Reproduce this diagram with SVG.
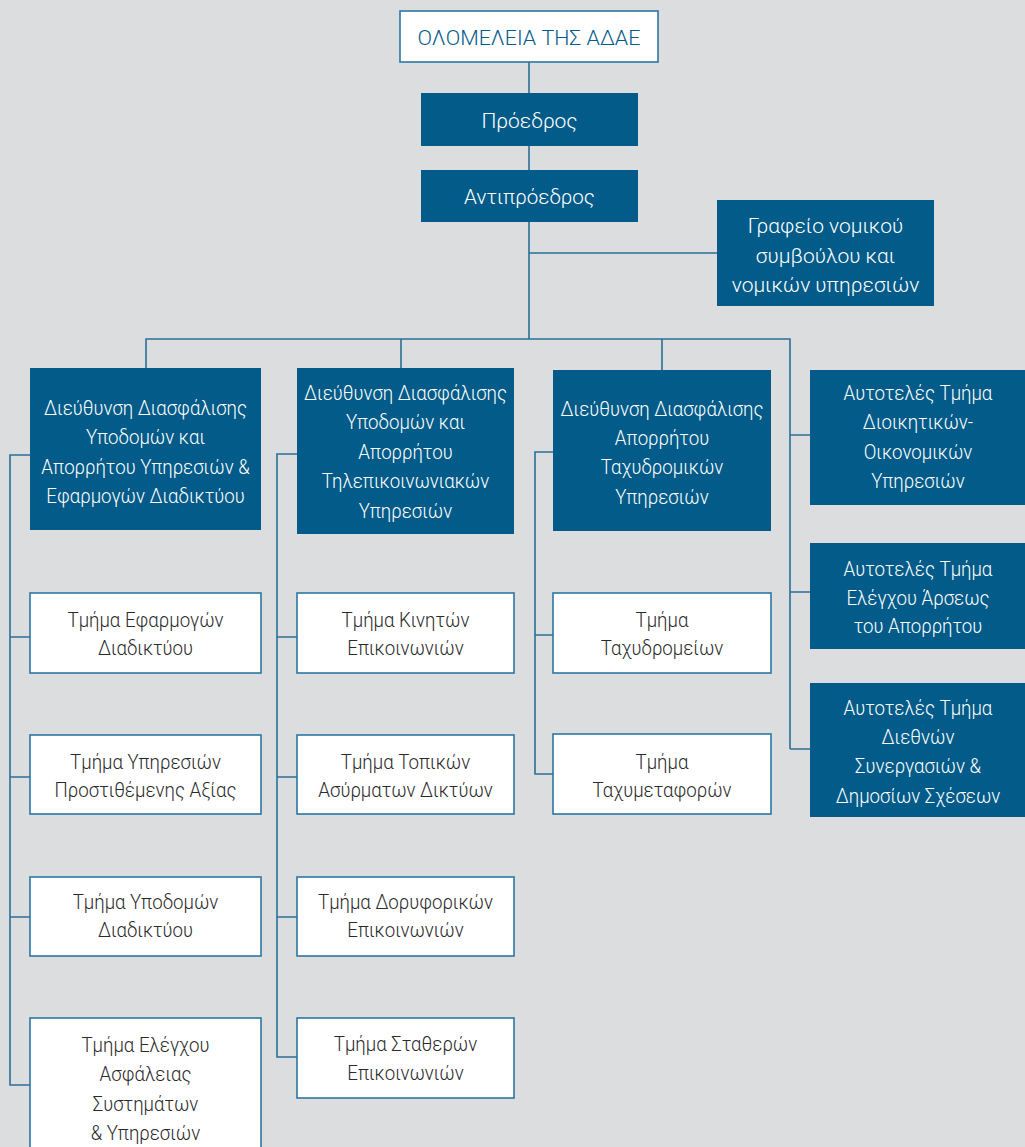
<svg xmlns="http://www.w3.org/2000/svg" width="1025" height="1147" viewBox="0 0 1025 1147">
<style>
.bg{fill:#dcdddf}
.dark{fill:#025b88}
.light{fill:#ffffff;stroke:#2b77a3;stroke-width:1.6}
.conn{fill:none;stroke:#2b6f98;stroke-width:1.6}
text{font-family:Roboto,"Noto Sans","DejaVu Sans",sans-serif;font-weight:300;font-size:21px;text-anchor:middle}
.tw{fill:#ffffff}
.tk{fill:#2a2a2a}
.tb{fill:#025b88}
</style>
<rect class="bg" x="0" y="0" width="1025" height="1147"/>
<g id="connectors">
<path class="conn" d="M529 62V339M529 253H717M146 368V339H790V749M401 339V368M662 339V370M790 435H810M790 592H810M790 749H810"/>
<path class="conn" d="M30 455H10V1085H30M10 637H30M10 777H30M10 917H30"/>
<path class="conn" d="M297 454H277V1057H297M277 637H297M277 777H297M277 917H297"/>
<path class="conn" d="M553 452H535V774H553M535 635H553"/>
</g>
<g id="olomeleia"><rect class="light" x="400" y="11" width="258" height="51"/><text class="tb" transform="translate(529 0) scale(1.02 1)"><tspan x="0" y="45.5">ΟΛΟΜΕΛΕΙΑ ΤΗΣ ΑΔΑΕ</tspan></text></g>
<g id="proedros"><rect class="dark" x="421" y="93" width="217" height="53"/><text class="tw" transform="translate(529.5 0) scale(1.0 1)"><tspan x="0" y="128">Πρόεδρος</tspan></text></g>
<g id="antiproedros"><rect class="dark" x="421" y="170" width="217" height="52"/><text class="tw" transform="translate(529.5 0) scale(0.98 1)"><tspan x="0" y="204">Αντιπρόεδρος</tspan></text></g>
<g id="grafeio"><rect class="dark" x="717" y="200" width="217" height="106"/><text class="tw" transform="translate(825.5 0) scale(1.0 1)"><tspan x="0" y="233">Γραφείο νομικού</tspan><tspan x="0" y="262.5">συμβούλου και</tspan><tspan x="0" y="292">νομικών υπηρεσιών</tspan></text></g>
<g id="dir1"><rect class="dark" x="30" y="368" width="231" height="162"/><text class="tw" transform="translate(145.5 0) scale(0.89 1)"><tspan x="0" y="415">Διεύθυνση Διασφάλισης</tspan><tspan x="0" y="444.3">Υποδομών και</tspan><tspan x="0" y="473.6">Απορρήτου Υπηρεσιών &amp;</tspan><tspan x="0" y="503">Εφαρμογών Διαδικτύου</tspan></text></g>
<g id="dir2"><rect class="dark" x="297" y="368" width="217" height="166"/><text class="tw" transform="translate(405.5 0) scale(0.89 1)"><tspan x="0" y="400">Διεύθυνση Διασφάλισης</tspan><tspan x="0" y="429.5">Υποδομών και</tspan><tspan x="0" y="459">Απορρήτου</tspan><tspan x="0" y="488.5">Τηλεπικοινωνιακών</tspan><tspan x="0" y="518">Υπηρεσιών</tspan></text></g>
<g id="dir3"><rect class="dark" x="553" y="370" width="218" height="161"/><text class="tw" transform="translate(662 0) scale(0.89 1)"><tspan x="0" y="416">Διεύθυνση Διασφάλισης</tspan><tspan x="0" y="445.2">Απορρήτου</tspan><tspan x="0" y="474.4">Ταχυδρομικών</tspan><tspan x="0" y="503.6">Υπηρεσιών</tspan></text></g>
<g id="auto1"><rect class="dark" x="810" y="370" width="220" height="135"/><text class="tw" transform="translate(918 0) scale(0.89 1)"><tspan x="0" y="400">Αυτοτελές Τμήμα</tspan><tspan x="0" y="429.5">Διοικητικών-</tspan><tspan x="0" y="459">Οικονομικών</tspan><tspan x="0" y="488.5">Υπηρεσιών</tspan></text></g>
<g id="auto2"><rect class="dark" x="810" y="543" width="220" height="106"/><text class="tw" transform="translate(918 0) scale(0.89 1)"><tspan x="0" y="576">Αυτοτελές Τμήμα</tspan><tspan x="0" y="604.7">Ελέγχου Άρσεως</tspan><tspan x="0" y="633.4">του Απορρήτου</tspan></text></g>
<g id="auto3"><rect class="dark" x="810" y="683" width="220" height="134"/><text class="tw" transform="translate(918 0) scale(0.89 1)"><tspan x="0" y="715">Αυτοτελές Τμήμα</tspan><tspan x="0" y="744.2">Διεθνών</tspan><tspan x="0" y="773.4">Συνεργασιών &amp;</tspan><tspan x="0" y="802.6">Δημοσίων Σχέσεων</tspan></text></g>
<g id="t1"><rect class="light" x="30" y="593" width="231" height="80"/><text class="tk" transform="translate(145.5 0) scale(0.89 1)"><tspan x="0" y="627">Τμήμα Εφαρμογών</tspan><tspan x="0" y="655.5">Διαδικτύου</tspan></text></g>
<g id="t2"><rect class="light" x="30" y="735" width="231" height="79"/><text class="tk" transform="translate(145.5 0) scale(0.89 1)"><tspan x="0" y="769">Τμήμα Υπηρεσιών</tspan><tspan x="0" y="797.5">Προστιθέμενης Αξίας</tspan></text></g>
<g id="t3"><rect class="light" x="30" y="877" width="231" height="79"/><text class="tk" transform="translate(145.5 0) scale(0.89 1)"><tspan x="0" y="909">Τμήμα Υποδομών</tspan><tspan x="0" y="937.5">Διαδικτύου</tspan></text></g>
<g id="t4"><rect class="light" x="30" y="1018" width="231" height="140"/><text class="tk" transform="translate(145.5 0) scale(0.89 1)"><tspan x="0" y="1052">Τμήμα Ελέγχου</tspan><tspan x="0" y="1081.3">Ασφάλειας</tspan><tspan x="0" y="1110.6">Συστημάτων</tspan><tspan x="0" y="1140">&amp; Υπηρεσιών</tspan></text></g>
<g id="t5"><rect class="light" x="297" y="593" width="217" height="80"/><text class="tk" transform="translate(405.5 0) scale(0.89 1)"><tspan x="0" y="627">Τμήμα Κινητών</tspan><tspan x="0" y="655.5">Επικοινωνιών</tspan></text></g>
<g id="t6"><rect class="light" x="297" y="735" width="217" height="79"/><text class="tk" transform="translate(405.5 0) scale(0.89 1)"><tspan x="0" y="769">Τμήμα Τοπικών</tspan><tspan x="0" y="797.5">Ασύρματων Δικτύων</tspan></text></g>
<g id="t7"><rect class="light" x="297" y="877" width="217" height="79"/><text class="tk" transform="translate(405.5 0) scale(0.89 1)"><tspan x="0" y="909">Τμήμα Δορυφορικών</tspan><tspan x="0" y="937.5">Επικοινωνιών</tspan></text></g>
<g id="t8"><rect class="light" x="297" y="1018" width="217" height="80"/><text class="tk" transform="translate(405.5 0) scale(0.89 1)"><tspan x="0" y="1051">Τμήμα Σταθερών</tspan><tspan x="0" y="1080">Επικοινωνιών</tspan></text></g>
<g id="t9"><rect class="light" x="553" y="593" width="218" height="80"/><text class="tk" transform="translate(662 0) scale(0.89 1)"><tspan x="0" y="627">Τμήμα</tspan><tspan x="0" y="655.5">Ταχυδρομείων</tspan></text></g>
<g id="t10"><rect class="light" x="553" y="734" width="218" height="80"/><text class="tk" transform="translate(662 0) scale(0.89 1)"><tspan x="0" y="769">Τμήμα</tspan><tspan x="0" y="797.5">Ταχυμεταφορών</tspan></text></g>
</svg>
